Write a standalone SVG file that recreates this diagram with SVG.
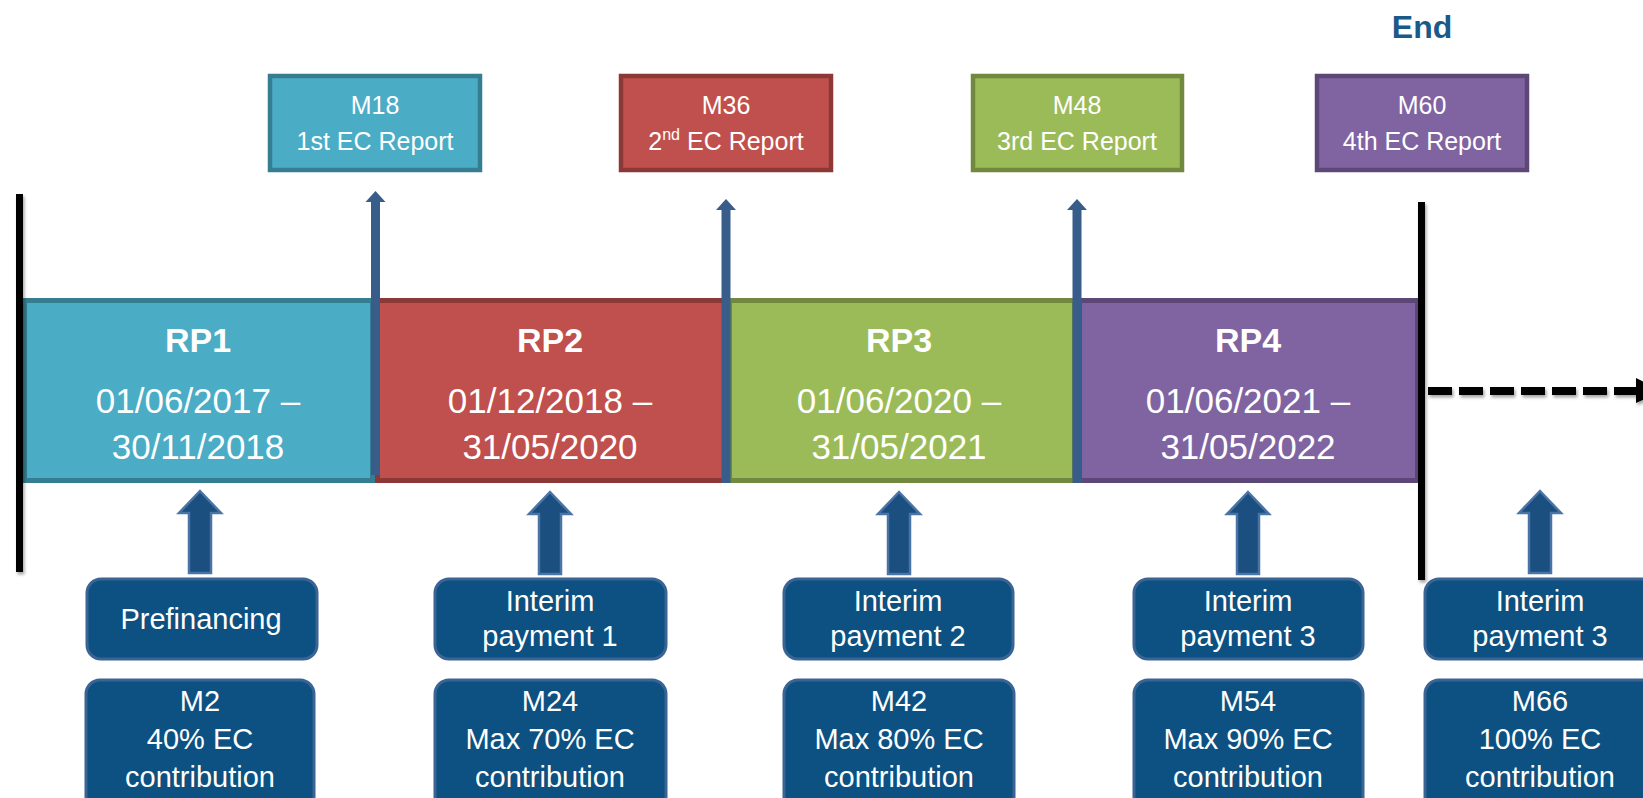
<svg xmlns="http://www.w3.org/2000/svg" width="1643" height="798" viewBox="0 0 1643 798">
  <defs>
    <style>
      text { font-family: "Liberation Sans", Arial, sans-serif; fill: #ffffff; text-anchor: middle; }
      .rep { font-size: 25px; }
      .rp { font-size: 34px; font-weight: bold; }
      .date { font-size: 35px; }
      .pay { font-size: 29px; }
      .end { font-size: 32px; font-weight: bold; fill: #1a5a88; }
      .blue { fill: #4bacc6; stroke: #357d91; }
      .red { fill: #c0504d; stroke: #8c3836; }
      .green { fill: #9bbb59; stroke: #71893f; }
      .purple { fill: #8064a2; stroke: #5c4776; }
      .repbox { stroke-width: 4.5; }
      .rpbox { stroke-width: 5; }
      .paybox { fill: #0c5181; stroke: #3a6494; stroke-width: 3; }
      .milestone { stroke: #385d8a; stroke-width: 9; fill: none; }
      .mhead { fill: #385d8a; }
      .block { fill: #1a4f7f; stroke: #4a74a6; stroke-width: 2.5; stroke-linejoin: miter; }
      .bar { stroke: #000000; stroke-width: 7; fill: none; }
    </style>
    <filter id="shadow" x="-50%" y="-10%" width="200%" height="130%">
      <feDropShadow dx="1.5" dy="2.5" stdDeviation="1.5" flood-color="#000000" flood-opacity="0.35"/>
    </filter>
    <!-- block arrow pointing up, origin at tip -->
    <path id="blockArrow" d="M0,0 L21,22 L11,22 L11,82 L-11,82 L-11,22 L-21,22 Z"/>
  </defs>

  <!-- Report milestones -->
  <g id="report-m18">
    <rect class="blue repbox" x="270" y="76" width="210" height="94"/>
    <text class="rep" x="375" y="114">M18</text>
    <text class="rep" x="375" y="150">1st EC Report</text>
  </g>
  <g id="report-m36">
    <rect class="red repbox" x="621" y="76" width="210" height="94"/>
    <text class="rep" x="726" y="114">M36</text>
    <text class="rep" x="726" y="150">2<tspan font-size="16" dy="-10">nd</tspan><tspan dy="10"> EC Report</tspan></text>
  </g>
  <g id="report-m48">
    <rect class="green repbox" x="973" y="76" width="209" height="94"/>
    <text class="rep" x="1077" y="114">M48</text>
    <text class="rep" x="1077" y="150">3rd EC Report</text>
  </g>
  <g id="report-m60">
    <rect class="purple repbox" x="1317" y="76" width="210" height="94"/>
    <text class="rep" x="1422" y="114">M60</text>
    <text class="rep" x="1422" y="150">4th EC Report</text>
  </g>

  <g id="end-label">
    <text class="end" x="1422" y="38">End</text>
  </g>

  <!-- Reporting periods -->
  <g id="rp1">
    <rect class="blue rpbox" x="24.5" y="300.5" width="348" height="180"/>
    <text class="rp" x="198" y="352">RP1</text>
    <text class="date" x="198" y="413">01/06/2017 –</text>
    <text class="date" x="198" y="459">30/11/2018</text>
  </g>
  <g id="rp2">
    <rect class="red rpbox" x="377.5" y="300.5" width="347" height="180"/>
    <text class="rp" x="550" y="352">RP2</text>
    <text class="date" x="550" y="413">01/12/2018 –</text>
    <text class="date" x="550" y="459">31/05/2020</text>
  </g>
  <g id="rp3">
    <rect class="green rpbox" x="729.5" y="300.5" width="345" height="180"/>
    <text class="rp" x="899" y="352">RP3</text>
    <text class="date" x="899" y="413">01/06/2020 –</text>
    <text class="date" x="899" y="459">31/05/2021</text>
  </g>
  <g id="rp4">
    <rect class="purple rpbox" x="1079.5" y="300.5" width="338" height="180"/>
    <text class="rp" x="1248" y="352">RP4</text>
    <text class="date" x="1248" y="413">01/06/2021 –</text>
    <text class="date" x="1248" y="459">31/05/2022</text>
  </g>

  <!-- Payments -->
  <g id="pay-prefinancing">
    <rect class="paybox" x="87" y="579" width="230" height="80" rx="14"/>
    <text class="pay" x="201" y="629">Prefinancing</text>
  </g>
  <g id="pay-m2">
    <rect class="paybox" x="86" y="680" width="228" height="140" rx="14"/>
    <text class="pay" x="200" y="711">M2</text>
    <text class="pay" x="200" y="749">40% EC</text>
    <text class="pay" x="200" y="787">contribution</text>
  </g>
  <g id="pay-interim1">
    <rect class="paybox" x="435" y="579" width="231" height="80" rx="14"/>
    <text class="pay" x="550" y="611">Interim</text>
    <text class="pay" x="550" y="646">payment 1</text>
  </g>
  <g id="pay-m24">
    <rect class="paybox" x="435" y="680" width="231" height="140" rx="14"/>
    <text class="pay" x="550" y="711">M24</text>
    <text class="pay" x="550" y="749">Max 70% EC</text>
    <text class="pay" x="550" y="787">contribution</text>
  </g>
  <g id="pay-interim2">
    <rect class="paybox" x="784" y="579" width="229" height="80" rx="14"/>
    <text class="pay" x="898" y="611">Interim</text>
    <text class="pay" x="898" y="646">payment 2</text>
  </g>
  <g id="pay-m42">
    <rect class="paybox" x="784" y="680" width="230" height="140" rx="14"/>
    <text class="pay" x="899" y="711">M42</text>
    <text class="pay" x="899" y="749">Max 80% EC</text>
    <text class="pay" x="899" y="787">contribution</text>
  </g>
  <g id="pay-interim3">
    <rect class="paybox" x="1134" y="579" width="229" height="80" rx="14"/>
    <text class="pay" x="1248" y="611">Interim</text>
    <text class="pay" x="1248" y="646">payment 3</text>
  </g>
  <g id="pay-m54">
    <rect class="paybox" x="1134" y="680" width="229" height="140" rx="14"/>
    <text class="pay" x="1248" y="711">M54</text>
    <text class="pay" x="1248" y="749">Max 90% EC</text>
    <text class="pay" x="1248" y="787">contribution</text>
  </g>
  <g id="pay-final">
    <rect class="paybox" x="1425" y="579" width="230" height="80" rx="14"/>
    <text class="pay" x="1540" y="611">Interim</text>
    <text class="pay" x="1540" y="646">payment 3</text>
  </g>
  <g id="pay-m66">
    <rect class="paybox" x="1425" y="680" width="230" height="140" rx="14"/>
    <text class="pay" x="1540" y="711">M66</text>
    <text class="pay" x="1540" y="749">100% EC</text>
    <text class="pay" x="1540" y="787">contribution</text>
  </g>

  <!-- Connectors -->
  <g id="connectors">
    <!-- milestone arrows up to the reports -->
    <line class="milestone" x1="375.5" y1="475" x2="375.5" y2="200"/>
    <polygon class="mhead" points="375.5,191 385.5,202 365.5,202"/>
    <line class="milestone" x1="726" y1="483" x2="726" y2="208"/>
    <polygon class="mhead" points="726,199 736,210 716,210"/>
    <line class="milestone" x1="1077" y1="483" x2="1077" y2="208"/>
    <polygon class="mhead" points="1077,199 1087,210 1067,210"/>

    <!-- payment arrows -->
    <use href="#blockArrow" class="block" x="200" y="491"/>
    <use href="#blockArrow" class="block" x="550" y="492"/>
    <use href="#blockArrow" class="block" x="899" y="492"/>
    <use href="#blockArrow" class="block" x="1248" y="492"/>
    <use href="#blockArrow" class="block" x="1540" y="491"/>

    <!-- start / end bars and continuation -->
    <g filter="url(#shadow)">
      <line class="bar" x1="19.5" y1="194" x2="19.5" y2="572"/>
      <line class="bar" x1="1421.5" y1="202" x2="1421.5" y2="580"/>
      <line x1="1428" y1="391" x2="1637" y2="391" stroke="#000000" stroke-width="8" stroke-dasharray="24 7"/>
      <polygon points="1636,378 1662,391 1636,403" fill="#000000"/>
    </g>
  </g>
</svg>
